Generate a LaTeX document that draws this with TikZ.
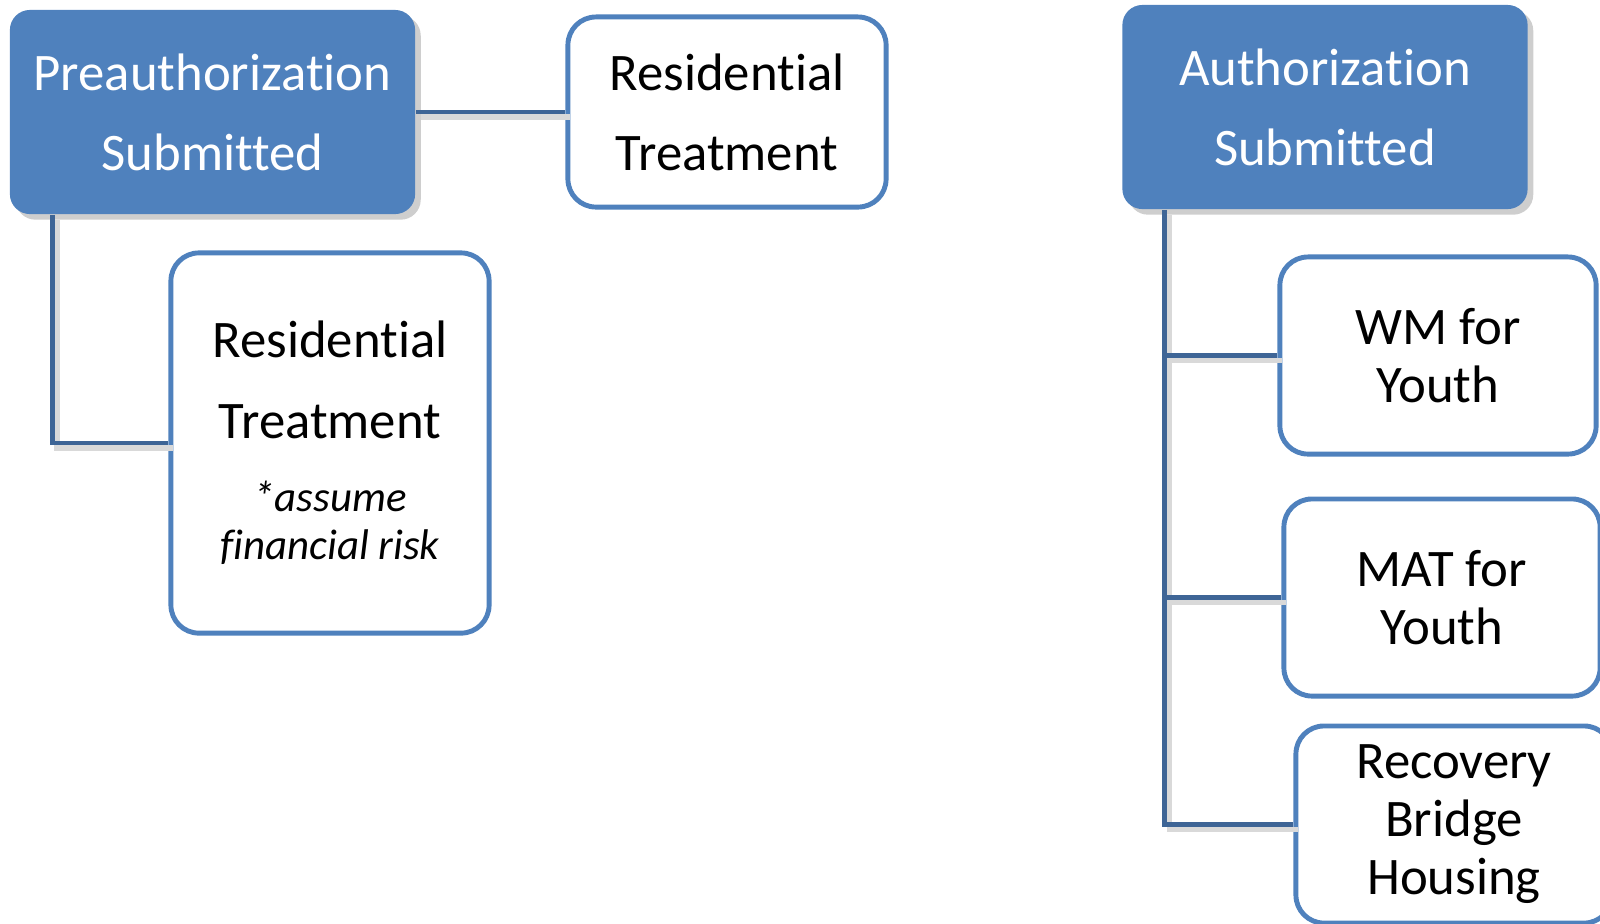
\documentclass[tikz,border=0pt]{standalone}
\usepackage{fontspec}
\setmainfont{Carlito}[Ligatures=NoCommon]
\usepackage{xcolor}
\usetikzlibrary{shadows, positioning}
\definecolor{accentblue}{RGB}{79,129,189}
\definecolor{linkblue}{RGB}{62,101,150}
\tikzset{
    headbox/.style={rectangle, rounded corners=0.2cm, fill=accentblue, draw=none, text=white, align=center,
        minimum width=4.05cm, minimum height=2.04cm,
        drop shadow={shadow xshift=1.6pt, shadow yshift=-1.6pt, opacity=0.35, fill=black!55}},
    itembox/.style={rectangle, rounded corners=0.28cm, draw=accentblue, line width=1.4pt, fill=white, text=black, align=center},
    link/.style={draw=linkblue, line width=1.4pt,
        preaction={draw=black!15, line width=1.6pt, transform canvas={xshift=1.4pt, yshift=-1.4pt}}}
}

\begin{document}
\begin{tikzpicture}[
    x=0.01cm, y=-0.01cm,
    wide/.style={font=\fontsize{15pt}{22.8pt}\selectfont},
    tight/.style={font=\fontsize{15pt}{16.5pt}\selectfont, minimum width=3.16cm, minimum height=1.97cm}
]
    \useasboundingbox (0,0) rectangle (1600,923);

    % Preauthorization branch
    \node[headbox, wide] (preauth) at (212.5,112) {Preauthorization\\Submitted};
    \node[itembox, wide, minimum width=3.18cm, minimum height=1.9cm] (resTop) at (727,112) {Residential\\Treatment};
    \node[itembox, wide, minimum width=3.18cm, minimum height=3.8cm] (resLow) at (330,443)
        {Residential\\Treatment\\[-2pt]{\fontsize{12.2pt}{13.4pt}\selectfont\itshape *assume}\\[-9pt]{\fontsize{12.2pt}{13.4pt}\selectfont\itshape financial risk}};

    % Authorization branch
    \node[headbox, wide] (auth) at (1325,107) {Authorization\\Submitted};
    \node[itembox, tight] (wm) at (1438,355.5) {WM for\\Youth};
    \node[itembox, tight] (mat) at (1442,597.5) {MAT for\\Youth};
    \node[itembox, tight] (rbh) at (1454,824.5) {Recovery\\Bridge\\Housing};

    % Connections
    \draw[link] (preauth.east) -- (resTop.west);
    \draw[link] ([xshift=0.43cm]preauth.south west) |- (resLow.west);
    \coordinate (spine) at ([xshift=0.43cm]auth.south west);
    \draw[link] (spine) |- (rbh.west);
    \foreach \n in {wm,mat}
        \draw[link] (\n.west -| spine) -- (\n.west);
\end{tikzpicture}
\end{document}
